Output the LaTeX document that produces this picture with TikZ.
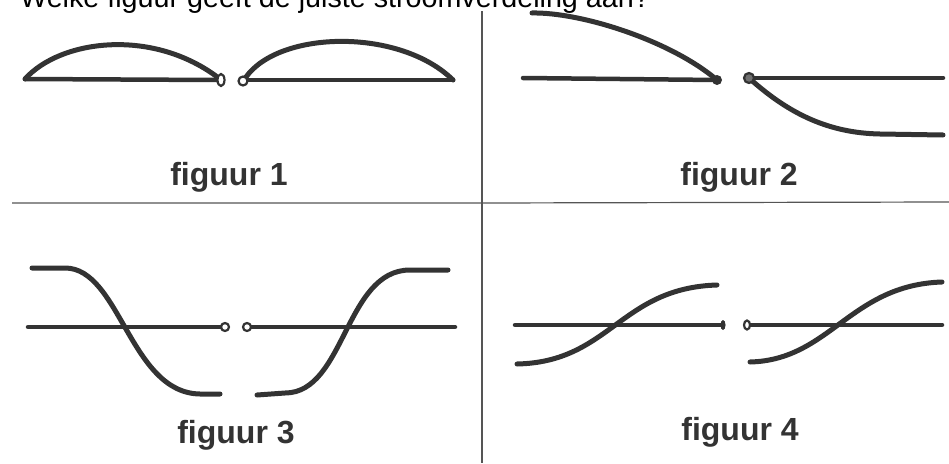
\documentclass[tikz,border=0pt]{standalone}
\usepackage{fontspec}
\setmainfont{Liberation Sans}
\definecolor{ink}{HTML}{333333}
\definecolor{rule}{HTML}{555555}
\begin{document}
\begin{tikzpicture}[x=1pt,y=-1pt,
  wire/.style={draw=ink,line width=4.5pt,line cap=round},
  curve/.style={draw=ink,line width=5pt,line cap=round},
  term/.style={draw=ink,line width=2.2pt,fill=white},
  grid/.style={draw=rule,line width=1.2pt},
  lab/.style={text=ink,font=\fontsize{32}{36}\selectfont\bfseries,anchor=base},
  title/.style={text=black,font=\fontsize{28.7}{32}\selectfont,anchor=base west,inner sep=0pt}]
\useasboundingbox (0,0) rectangle (949,463);
\begin{scope}
\clip (0,0) rectangle (949,463);
\node[title] (q) at (20,7.5) {Welke figuur geeft de juiste stroomverdeling aan?};
\end{scope}
% grid
\coordinate (vt) at (482,11);
\coordinate (vb) at (482,463);
\coordinate (hl) at (12,203);
\coordinate (hm) at (482,203);
\coordinate (hr) at (949,202);
\draw[grid] (vt) -- (vb);
\draw[grid] (hl) -- (hm) -- (hr);
% figuur 1
\coordinate (a1) at (25,79);
\coordinate (b1) at (221,80);
\coordinate (c1) at (243,81);
\coordinate (d1) at (453,80);
\draw[wire] (a1) -- (217,80);
\draw[curve] (a1) .. controls (60,40) and (150,28) .. (216,76);
\draw[wire] (247,80) -- (d1);
\draw[curve] (246,77) .. controls (280,30) and (400,28) .. (d1);
\draw[term] (b1) ellipse [x radius=3.5, y radius=6];
\draw[term] (c1) circle [radius=4.5];
\node[lab] (l1) at (229,185) {figuur 1};
% figuur 2
\coordinate (a2) at (523,78);
\coordinate (b2) at (717,80);
\coordinate (c2) at (749,78);
\coordinate (d2) at (943,78);
\draw[wire] (a2) -- (b2);
\draw[curve] (532,13) .. controls (580,12) and (670,40) .. (b2);
\draw[wire] (c2) -- (d2);
\draw[curve] (c2) .. controls (790,115) and (830,133) .. (880,134) -- (943,135);
\fill[ink] (b2) circle [radius=5];
\draw[term,fill=ink!70] (c2) circle [radius=5];
\node[lab] (l2) at (739,185) {figuur 2};
% figuur 3
\coordinate (a3) at (28,327);
\coordinate (b3) at (225,327);
\coordinate (c3) at (247,327);
\coordinate (d3) at (455,327);
\draw[wire] (a3) -- (b3);
\draw[wire] (c3) -- (d3);
\draw[curve] (32,268) -- (65,268) .. controls (120,268) and (130,393) .. (200,394) -- (220,394);
\draw[curve] (257,395) -- (285,393) .. controls (345,393) and (345,270) .. (410,270) -- (448,270);
\draw[term] (b3) circle [radius=4];
\draw[term] (c3) circle [radius=4];
\node[lab] (l3) at (236,443) {figuur 3};
% figuur 4
\coordinate (a4) at (515,325);
\coordinate (b4) at (723,325);
\coordinate (c4) at (747,325);
\coordinate (d4) at (942,325);
\draw[wire] (a4) -- (b4);
\draw[wire] (c4) -- (d4);
\draw[curve] (517,364) .. controls (610,362) and (620,288) .. (717,285);
\draw[curve] (750,362) .. controls (830,360) and (850,285) .. (942,282);
\fill[ink] (b4) ellipse [x radius=2.5, y radius=5];
\draw[term] (c4) ellipse [x radius=3, y radius=4.5];
\node[lab] (l4) at (740,440) {figuur 4};
\end{tikzpicture}
\end{document}
